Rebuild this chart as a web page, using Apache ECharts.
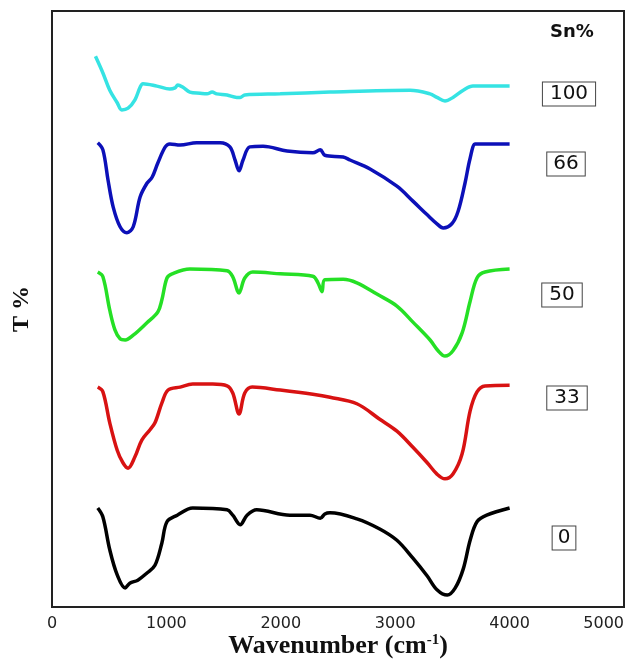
<!DOCTYPE html>
<html>
<head>
<meta charset="utf-8">
<script src="https://cdn.jsdelivr.net/npm/echarts@6/dist/echarts.min.js"></script>
<style>
html,body{margin:0;padding:0;background:#fff;}
#chart{width:630px;height:659px;}
</style>
</head>
<body>
<div id="chart"></div>
<script>
// Wavenumber axis ticks
const xTicks = [0, 1000, 2000, 3000, 4000, 5000];
// Series names (Sn %) and colours
const seriesNames = ['100', '66', '50', '33', '0'];
const seriesColors = ['#35E3E3', '#0C10B8', '#25E025', '#D81212', '#000000'];

// [wavenumber (cm-1), T % (offset, arbitrary units)]
const sn100 = [[380,92.4],[445,89.6],[505,86.7],[570,84.6],[610,83.4],[665,83.7],[725,85.1],[770,87.2],[795,87.8],[917,87.4],[1030,86.9],[1075,87.1],[1100,87.6],[1145,87.2],[1205,86.4],[1295,86.2],[1355,86.1],[1400,86.4],[1440,86.1],[1530,85.9],[1615,85.5],[1645,85.5],[1685,85.9],[1995,86.1],[2430,86.4],[3130,86.7],[3305,86.1],[3365,85.5],[3435,84.9],[3505,85.5],[3595,86.7],[3680,87.4],[4000,87.4]];
const sn66 = [[400,77.9],[445,76.7],[490,71.6],[535,67.1],[595,63.8],[655,62.8],[710,63.8],[770,68.8],[830,71.1],[875,72.1],[925,74.5],[990,77.2],[1030,77.7],[1120,77.5],[1265,77.9],[1470,77.9],[1555,77.2],[1600,75.0],[1635,73.2],[1670,75.0],[1730,77.2],[1845,77.3],[2055,76.5],[2280,76.2],[2345,76.7],[2385,75.8],[2545,75.5],[2605,75.0],[2780,73.5],[3015,70.6],[3155,68.1],[3280,65.8],[3365,64.3],[3420,63.6],[3495,64.3],[3550,66.4],[3610,71.1],[3655,75.3],[3700,77.7],[3740,77.7],[4000,77.7]];
const sn50 = [[400,56.2],[445,55.4],[505,49.8],[550,46.5],[595,45.0],[640,44.8],[710,45.6],[830,47.7],[925,49.5],[960,51.5],[1005,55.2],[1050,55.9],[1205,56.7],[1530,56.4],[1580,55.4],[1635,52.7],[1685,55.2],[1755,56.2],[1995,55.9],[2280,55.5],[2325,54.4],[2360,52.9],[2385,54.9],[2545,55.0],[2665,54.4],[2840,52.5],[3015,50.5],[3155,47.8],[3305,44.8],[3375,43.0],[3435,42.1],[3505,43.0],[3585,46.0],[3655,51.3],[3715,55.2],[3785,56.2],[4000,56.7]];
const sn33 = [[400,36.9],[445,36.1],[505,30.9],[570,26.3],[620,24.2],[665,23.3],[725,25.2],[785,28.0],[855,29.7],[900,30.9],[960,34.2],[1015,36.4],[1120,36.9],[1230,37.4],[1405,37.4],[1530,37.1],[1580,35.9],[1635,32.4],[1685,35.9],[1750,36.9],[1995,36.4],[2280,35.7],[2430,35.2],[2665,34.1],[2865,31.5],[3015,29.5],[3155,26.8],[3280,24.2],[3365,22.3],[3435,21.5],[3505,22.3],[3585,25.7],[3655,32.9],[3715,36.1],[3785,37.1],[4000,37.2]];
const sn0 = [[400,16.6],[445,15.1],[505,9.6],[570,5.4],[640,3.2],[680,4.0],[750,4.5],[830,5.7],[900,7.0],[960,10.7],[1005,14.3],[1095,15.4],[1230,16.6],[1530,16.3],[1580,15.4],[1645,13.8],[1705,15.4],[1790,16.3],[2080,15.4],[2255,15.4],[2345,14.9],[2385,15.6],[2430,15.8],[2665,14.8],[2865,13.1],[3015,11.2],[3155,8.2],[3280,5.2],[3365,2.9],[3455,2.0],[3525,3.2],[3595,6.4],[3655,11.2],[3715,14.3],[3800,15.4],[4000,16.6]];
const allData = [sn100, sn66, sn50, sn33, sn0];

const chart = echarts.init(document.getElementById('chart'), null, {renderer: 'canvas'});

const boxStyle = [
  {x: 569, y: 94, pad: [2, 7, 1, 7]},
  {x: 566, y: 164, pad: [2, 6, 1, 6]},
  {x: 562, y: 295, pad: [2, 7, 1, 7]},
  {x: 567, y: 398, pad: [2, 7, 1, 7]},
  {x: 564, y: 538, pad: [2, 5, 1, 5]}
];

const graphics = [{
  type: 'text', x: 572, y: 32,
  style: {text: 'Sn%', font: 'bold 18px "DejaVu Sans", sans-serif', fill: '#111', align: 'center', verticalAlign: 'middle'}
}];
seriesNames.forEach((n, i) => {
  graphics.push({
    type: 'text', x: boxStyle[i].x, y: boxStyle[i].y,
    style: {
      text: n, font: '20px "DejaVu Sans", sans-serif', fill: '#111',
      align: 'center', verticalAlign: 'middle',
      borderColor: '#444', borderWidth: 1, padding: boxStyle[i].pad, backgroundColor: '#fff'
    }
  });
});

chart.setOption({
  animation: false,
  backgroundColor: '#fff',
  grid: {left: 52, right: 6, top: 11, bottom: 52, show: true, borderColor: '#222', borderWidth: 2,
         containLabel: false, outerBoundsMode: 'none'},
  xAxis: {
    type: 'value', min: xTicks[0], max: xTicks[xTicks.length - 1], interval: 1000,
    axisLine: {show: true, lineStyle: {color: '#222', width: 2}},
    axisTick: {show: false},
    splitLine: {show: false},
    axisLabel: {fontSize: 16, color: '#222', fontFamily: '"DejaVu Sans", sans-serif', margin: 9,
                alignMaxLabel: 'right', formatter: v => String(v)},
    name: 'Wavenumber (cm{sup|-1})',
    nameLocation: 'middle', nameGap: 39, nameMoveOverlap: false,
    nameTextStyle: {
      fontFamily: '"Liberation Serif", serif', fontWeight: 'bold', fontSize: 26, color: '#111',
      verticalAlign: 'middle',
      rich: {sup: {fontFamily: '"Liberation Serif", serif', fontWeight: 'bold', fontSize: 15, color: '#111', verticalAlign: 'top', padding: [0, 0, 10, 0]}}
    }
  },
  yAxis: {
    type: 'value', min: 0, max: 100,
    axisLine: {show: true, lineStyle: {color: '#222', width: 2}},
    axisTick: {show: false}, axisLabel: {show: false}, splitLine: {show: false},
    name: 'T %', nameLocation: 'middle', nameRotate: 90, nameGap: 18, nameMoveOverlap: false,
    nameTextStyle: {fontFamily: '"Liberation Serif", serif', fontWeight: 'bold', fontSize: 24, color: '#111'}
  },
  series: allData.map((d, i) => ({
    name: seriesNames[i], type: 'line', data: d, smooth: 0.35, showSymbol: false,
    lineStyle: {color: seriesColors[i], width: 3.5}, itemStyle: {color: seriesColors[i]}
  })),
  graphic: graphics
});
</script>
</body>
</html>
